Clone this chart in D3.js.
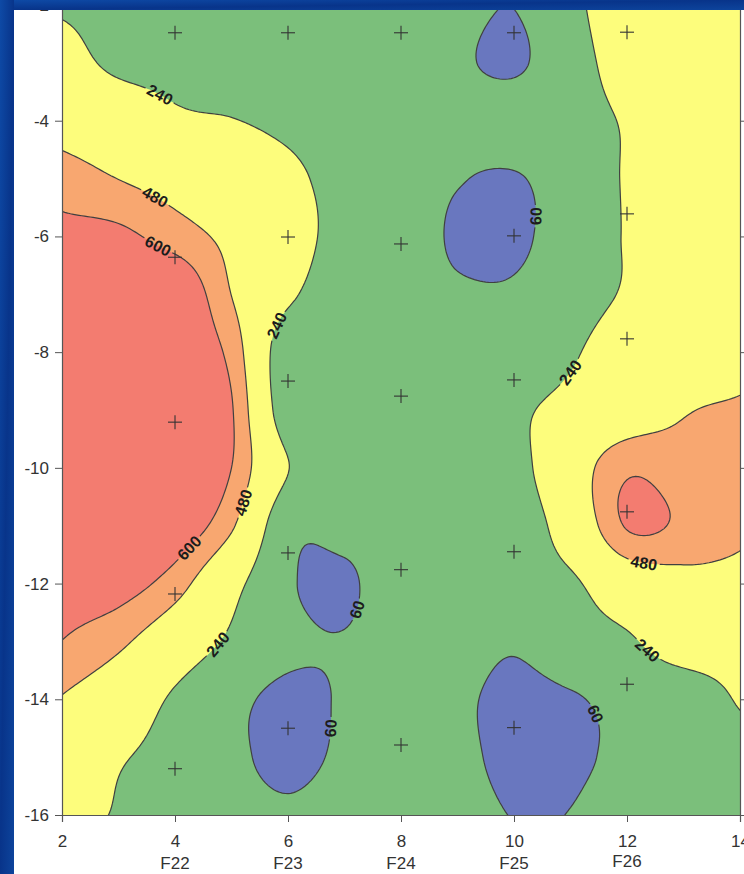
<!DOCTYPE html>
<html>
<head>
<meta charset="utf-8">
<script src="https://cdn.jsdelivr.net/npm/d3@7"></script>
<style>
html, body { margin: 0; padding: 0; background: #0b3c92; }
svg { display: block; }
</style>
</head>
<body>
<svg id="chart" width="744" height="874"></svg>
<script>
// grid columns (x) and rows (y) of the estimated surface
var gridX = [2, 3, 4, 5, 6, 7, 8, 9, 10, 11, 12, 13, 14]
var gridY = [-2, -3, -4, -5, -6, -7, -8, -9, -10, -11, -12, -13, -14, -15, -16]
// values, one row per gridY, one column per gridX
var surface = [
    [215, 190, 170, 160, 150, 150, 140, 110, 62, 200, 338, 380, 400],
    [315, 205, 190, 170, 160, 155, 140, 85, 35, 180, 302, 390, 410],
    [420, 370, 270, 245, 210, 170, 150, 130, 150, 190, 252, 320, 350],
    [537, 478, 413, 343, 273, 190, 150, 70, 49, 135, 252, 300, 330],
    [640, 630, 543, 438, 311, 189, 170, 35, 42, 115, 251, 300, 330],
    [690, 710, 722, 478, 270, 150, 140, 85, 75, 140, 259, 310, 340],
    [720, 740, 720, 560, 130, 150, 150, 150, 140, 215, 360, 385, 420],
    [750, 760, 760, 610, 140, 150, 150, 180, 215, 290, 380, 470, 495],
    [760, 770, 750, 600, 245, 150, 150, 160, 187, 384, 578, 530, 515],
    [740, 730, 690, 500, 110, 110, 150, 170, 150, 330, 610, 578, 505],
    [670, 655, 540, 300, 80, 30, 180, 170, 180, 215, 365, 430, 435],
    [598, 510, 361, 212, 95, 68, 150, 130, 80, 170, 215, 350, 340],
    [470, 365, 216, 100, 30, 75, 150, 90, 20, 45, 105, 120, 260],
    [330, 255, 185, 92, 25, 86, 150, 103, 15, 35, 93, 140, 155],
    [290, 230, 180, 120, 85, 130, 150, 130, 55, 64, 140, 150, 155]
]
var levels = [60, 240, 480, 600]
var bandColors = ['#6977bf', '#7bbf7b', '#fdfd7c', '#f8a770', '#f37c70']

// sample locations (+)
var sampleX = [4, 4, 4, 4, 4, 6, 6, 6, 6, 6, 8, 8, 8, 8, 8, 10, 10, 10, 10, 10, 12, 12, 12, 12, 12]
var sampleY = [-2.48, -6.36, -9.21, -12.18, -15.2,
               -2.48, -6.01, -8.5, -11.47, -14.5,
               -2.48, -6.13, -8.76, -11.76, -14.79,
               -2.48, -5.99, -8.48, -11.45, -14.49,
               -2.47, -5.61, -7.77, -10.76, -13.74]

var xTicks = [2, 4, 6, 8, 10, 12, 14]
var yTicks = [-2, -4, -6, -8, -10, -12, -14, -16]
var wellNames = ['F22', 'F23', 'F24', 'F25', 'F26']
var wellX = [4, 6, 8, 10, 12]

// contour labels: level and rough spot on the line
var labelLevel = [240, 480, 600, 240, 480, 600, 240, 60, 240, 480, 240, 60, 60, 60]
var labelX = [3.68, 3.65, 3.68, 5.91, 5.10, 4.23, 4.80, 10.34, 10.94, 12.32, 12.41, 7.15, 6.69, 11.26]
var labelY = [-3.61, -5.32, -6.18, -7.57, -10.56, -11.37, -13.06, -5.65, -8.31, -11.64, -13.10, -12.42, -14.48, -14.31]

var W = 744, H = 874
var svg = d3.select('#chart')
var x = d3.scaleLinear().domain([2, 14]).range([62, 740])
var y = d3.scaleLinear().domain([-2, -16]).range([5, 815])
var font = 'Liberation Sans, Arial, sans-serif'

var defs = svg.append('defs')
var bg = defs.append('linearGradient').attr('id', 'bg').attr('x1', 0).attr('y1', 0).attr('x2', 1).attr('y2', 1)
bg.append('stop').attr('offset', '0%').attr('stop-color', '#0e4aa6')
bg.append('stop').attr('offset', '50%').attr('stop-color', '#08348a')
bg.append('stop').attr('offset', '100%').attr('stop-color', '#0d449c')

svg.append('rect').attr('width', W).attr('height', H).attr('fill', 'url(#bg)')
svg.append('rect').attr('x', 14).attr('y', 10).attr('width', W - 14).attr('height', H - 10).attr('fill', '#ffffff')

// smooth the coarse grid with catmull-rom so the contours come out round
var nr = surface.length, nc = surface[0].length
function at(r, c) {
    if (r < 0) return 2 * at(0, c) - at(1, c)
    if (r >= nr) return 2 * at(nr - 1, c) - at(nr - 2, c)
    if (c < 0) return 2 * at(r, 0) - at(r, 1)
    if (c >= nc) return 2 * at(r, nc - 1) - at(r, nc - 2)
    return surface[r][c]
}
function cr(p0, p1, p2, p3, t) {
    return p1 + 0.5 * t * (p2 - p0 + t * (2 * p0 - 5 * p1 + 4 * p2 - p3 + t * (3 * (p1 - p2) + p3 - p0)))
}
function sampleAt(fx, fy) {
    var c = Math.min(Math.floor(fx), nc - 2), r = Math.min(Math.floor(fy), nr - 2)
    var tx = fx - c, ty = fy - r
    var col = []
    for (var i = -1; i <= 2; i++) {
        col.push(cr(at(r + i, c - 1), at(r + i, c), at(r + i, c + 1), at(r + i, c + 2), tx))
    }
    return cr(col[0], col[1], col[2], col[3], ty)
}
var sub = 20
var fnx = (nc - 1) * sub + 1, fny = (nr - 1) * sub + 1
var fine = new Array(fnx * fny)
for (var j = 0; j < fny; j++) {
    for (var i = 0; i < fnx; i++) {
        fine[j * fnx + i] = sampleAt(i / sub, j / sub)
    }
}
var dx = gridX[1] - gridX[0], dy = gridY[1] - gridY[0]
function gx(p) { return gridX[0] + (p - 0.5) / sub * dx }
function gy(q) { return gridY[0] + (q - 0.5) / sub * dy }
var proj = d3.geoTransform({ point: function (p, q) { this.stream.point(x(gx(p)), y(gy(q))) } })
var path = d3.geoPath(proj)
var contours = d3.contours().size([fnx, fny]).thresholds(levels)(fine)

defs.append('clipPath').attr('id', 'plotClip').append('rect')
    .attr('x', x(2)).attr('y', y(-2)).attr('width', x(14) - x(2)).attr('height', y(-16) - y(-2))

var plot = svg.append('g').attr('clip-path', 'url(#plotClip)')
plot.append('rect').attr('x', x(2)).attr('y', y(-2)).attr('width', x(14) - x(2)).attr('height', y(-16) - y(-2))
    .attr('fill', bandColors[0])
plot.selectAll('path.band').data(contours).enter().append('path')
    .attr('class', 'band')
    .attr('d', path)
    .attr('fill', function (d, i) { return bandColors[i + 1] })

// place the labels on the nearest bit of their contour
var placed = []
labelLevel.forEach(function (lv, k) {
    var cont = contours[levels.indexOf(lv)]
    var tx = x(labelX[k]), ty = y(labelY[k])
    var best = null, bestD = Infinity
    cont.coordinates.forEach(function (poly) {
        poly.forEach(function (ring) {
            var pts = ring.map(function (p) { return [x(gx(p[0])), y(gy(p[1]))] })
            for (var n = 0; n < pts.length; n++) {
                var dd = (pts[n][0] - tx) * (pts[n][0] - tx) + (pts[n][1] - ty) * (pts[n][1] - ty)
                if (dd < bestD) { bestD = dd; best = { pts: pts, n: n } }
            }
        })
    })
    if (!best) return
    var pts = best.pts, m = pts.length - 1
    var a = pts[(best.n - 4 + m) % m], b = pts[(best.n + 4) % m]
    var ang = Math.atan2(b[1] - a[1], b[0] - a[0]) * 180 / Math.PI
    if (ang > 90) ang -= 180
    if (ang < -90) ang += 180
    placed.push({ text: String(lv), px: pts[best.n][0], py: pts[best.n][1], angle: ang })
})

var mask = defs.append('mask').attr('id', 'lineMask')
    .attr('maskUnits', 'userSpaceOnUse').attr('x', 0).attr('y', 0).attr('width', W).attr('height', H)
mask.append('rect').attr('width', W).attr('height', H).attr('fill', 'white')
mask.selectAll('rect.gap').data(placed).enter().append('rect')
    .attr('class', 'gap')
    .attr('x', function (d) { return -(d.text.length * 9.2 + 4) / 2 })
    .attr('y', -7)
    .attr('width', function (d) { return d.text.length * 9.2 + 4 })
    .attr('height', 14)
    .attr('transform', function (d) { return 'translate(' + d.px + ',' + d.py + ') rotate(' + d.angle + ')' })
    .attr('fill', 'black')

plot.append('g').attr('mask', 'url(#lineMask)')
    .selectAll('path').data(contours).enter().append('path')
    .attr('d', path)
    .attr('fill', 'none')
    .attr('stroke', '#404040')
    .attr('stroke-width', 1.2)

plot.selectAll('text.clabel').data(placed).enter().append('text')
    .attr('class', 'clabel')
    .attr('transform', function (d) { return 'translate(' + d.px + ',' + d.py + ') rotate(' + d.angle + ')' })
    .attr('text-anchor', 'middle')
    .attr('dy', '0.36em')
    .attr('font-family', font)
    .attr('font-size', 16)
    .attr('font-weight', 'bold')
    .attr('fill', '#1c1c1c')
    .text(function (d) { return d.text })

// sample crosses
var crosses = svg.append('g').attr('stroke', '#333').attr('stroke-width', 1.1)
sampleX.forEach(function (sx, k) {
    var cx = x(sx), cy = y(sampleY[k])
    crosses.append('line').attr('x1', cx - 7).attr('x2', cx + 7).attr('y1', cy).attr('y2', cy)
    crosses.append('line').attr('x1', cx).attr('x2', cx).attr('y1', cy - 7).attr('y2', cy + 7)
})

// axes
var plain = function (d) { return String(d) }
var left = svg.append('g').attr('transform', 'translate(' + x(2) + ',0)')
    .call(d3.axisLeft(y).tickValues(yTicks).tickSize(7).tickPadding(6).tickFormat(plain))
var bottom = svg.append('g').attr('transform', 'translate(0,' + y(-16) + ')')
    .call(d3.axisBottom(x).tickValues(xTicks).tickSize(7).tickPadding(13).tickFormat(plain))
var right = svg.append('g').attr('transform', 'translate(' + x(14) + ',0)')
    .call(d3.axisRight(y).tickValues(yTicks).tickSize(5).tickFormat(''))
;[left, bottom, right].forEach(function (g) {
    g.select('.domain').attr('stroke', '#555').attr('stroke-width', 1.2)
    g.selectAll('.tick line').attr('stroke', '#555')
    g.selectAll('.tick text').attr('font-family', font).attr('font-size', 17).attr('fill', '#333')
})

svg.append('g').selectAll('text').data(wellNames).enter().append('text')
    .attr('x', function (d, i) { return x(wellX[i]) })
    .attr('y', function (d, i) { return i === 4 ? 867 : 869 })
    .attr('text-anchor', 'middle')
    .attr('font-family', font)
    .attr('font-size', 17)
    .attr('fill', '#333')
    .text(function (d) { return d })

// the slide background cuts the top and left edges
svg.append('rect').attr('width', W).attr('height', 10).attr('fill', 'url(#bg)')
svg.append('rect').attr('width', 14).attr('height', H).attr('fill', 'url(#bg)')
</script>
</body>
</html>
